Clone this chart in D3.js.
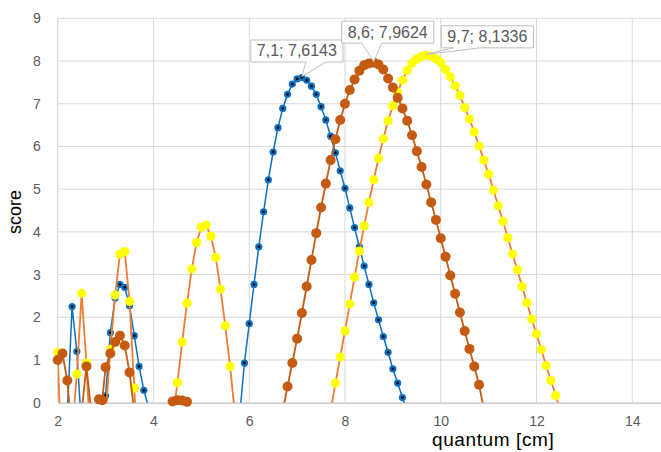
<!DOCTYPE html>
<html>
<head>
<meta charset="utf-8">
<script src="https://cdn.jsdelivr.net/npm/d3@7"></script>
<style>
  html, body { margin: 0; padding: 0; background: #ffffff; }
  svg { display: block; font-family: "Liberation Sans", Arial, sans-serif; }
</style>
</head>
<body>
<svg id="chart" width="661" height="452"></svg>
<script>
// Axis ticks
const xTicks = [2, 4, 6, 8, 10, 12, 14];
const yTicks = [0, 1, 2, 3, 4, 5, 6, 7, 8, 9];

// Series 1 (blue)
const blueX = [2.1, 2.2, 2.3, 2.4, 2.5, 2.9, 3.0, 3.1, 3.2, 3.3, 3.4, 3.5, 3.6, 3.7, 3.8, 3.9,
  5.8, 5.9, 6.0, 6.1, 6.2, 6.3, 6.4, 6.5, 6.6, 6.7, 6.8, 6.9, 7.0, 7.1, 7.2, 7.3, 7.4, 7.5,
  7.6, 7.7, 7.8, 7.9, 8.0, 8.1, 8.2, 8.3, 8.4, 8.5, 8.6, 8.7, 8.8, 8.9, 9.0, 9.1, 9.2, 9.3];
const blueY = [-1.0, -0.3, 2.25, 1.20, -0.6, -0.3, 0.16, 1.64, 2.45, 2.77, 2.70, 2.27, 1.57, 0.85, 0.29, -0.12,
  -0.3, 0.93, 1.85, 2.77, 3.65, 4.47, 5.22, 5.87, 6.44, 6.89, 7.22, 7.46, 7.58, 7.6143, 7.55, 7.41, 7.22, 6.93,
  6.62, 6.24, 5.85, 5.43, 5.02, 4.56, 4.10, 3.65, 3.20, 2.77, 2.34, 1.94, 1.55, 1.18, 0.79, 0.46, 0.12, -0.25];

// Series 2 (brown)
const brownX = [2.0, 2.1, 2.2, 2.3, 2.5, 2.6, 2.7, 2.8, 2.86, 2.93, 3.0, 3.1, 3.2, 3.3, 3.4, 3.5, 3.6,
  4.3, 4.4, 4.5, 4.6, 4.7, 4.8,
  6.7, 6.8, 6.9, 7.0, 7.1, 7.2, 7.3, 7.4, 7.5, 7.6, 7.7, 7.8, 7.9, 8.0, 8.1, 8.2, 8.3, 8.4, 8.5,
  8.6, 8.7, 8.8, 8.9, 9.0, 9.1, 9.2, 9.3, 9.4, 9.5, 9.6, 9.7, 9.8, 9.9, 10.0, 10.1, 10.2, 10.3,
  10.4, 10.5, 10.6, 10.7, 10.8, 10.9];
const brownY = [1.0, 1.15, 0.52, -0.8, -0.2, 0.85, -0.2, -0.5, 0.08, 0.06, 0.83, 1.15, 1.42, 1.57, 1.34, 0.71, -0.2,
  -0.5, 0.03, 0.06, 0.05, 0.02, -0.5,
  -0.2, 0.38, 0.93, 1.50, 2.10, 2.72, 3.34, 3.97, 4.57, 5.13, 5.68, 6.17, 6.62, 7.00, 7.32, 7.57, 7.77, 7.90, 7.94,
  7.9624, 7.92, 7.80, 7.59, 7.38, 7.14, 6.89, 6.60, 6.26, 5.89, 5.52, 5.11, 4.69, 4.28, 3.85, 3.42, 2.98, 2.55,
  2.11, 1.68, 1.26, 0.85, 0.42, -0.15];

// Series 3 (yellow)
const yellowX = [2.0, 2.1, 2.3, 2.4, 2.5, 2.6, 2.7, 3.0, 3.1, 3.2, 3.3, 3.4, 3.5, 3.6, 3.7,
  4.4, 4.5, 4.6, 4.7, 4.8, 4.9, 5.0, 5.1, 5.2, 5.3, 5.4, 5.5, 5.6, 5.7,
  7.7, 7.8, 7.9, 8.0, 8.1, 8.2, 8.3, 8.4, 8.5, 8.6, 8.7, 8.8, 8.9, 9.0, 9.1, 9.2, 9.3, 9.4, 9.5,
  9.6, 9.7, 9.8, 9.9, 10.0, 10.1, 10.2, 10.3, 10.4, 10.5, 10.6, 10.7, 10.8, 10.9, 11.0, 11.1, 11.2,
  11.3, 11.4, 11.5, 11.6, 11.7, 11.8, 11.9, 12.0, 12.1, 12.2, 12.3, 12.4, 12.5];
const yellowY = [1.18, -2.0, -0.7, 0.67, 2.56, 0.93, -1.4, -0.3, 1.25, 2.52, 3.48, 3.54, 2.37, 0.34, -2.0,
  -0.4, 0.47, 1.42, 2.33, 3.13, 3.75, 4.11, 4.16, 3.90, 3.40, 2.66, 1.80, 0.85, -0.25,
  -0.2, 0.46, 1.07, 1.68, 2.31, 2.94, 3.55, 4.14, 4.69, 5.22, 5.72, 6.18, 6.60, 6.95, 7.27, 7.55, 7.78, 7.95, 8.05,
  8.11, 8.1336, 8.11, 8.05, 7.96, 7.80, 7.63, 7.42, 7.20, 6.91, 6.64, 6.34, 6.01, 5.68, 5.35, 4.98, 4.61,
  4.25, 3.86, 3.48, 3.11, 2.72, 2.34, 1.96, 1.61, 1.24, 0.87, 0.52, 0.17, -0.2];

// Points carrying a value label
const labelled = [
  { series: "blue", x: 7.1, y: 7.6143 },
  { series: "brown", x: 8.6, y: 7.9624 },
  { series: "yellow", x: 9.7, y: 8.1336 }
];

const svg = d3.select("#chart");
const plot = { left: 57.7, right: 661, top: 18.3, bottom: 402.7 };

const x = d3.scaleLinear().domain([2, 14.6]).range([plot.left, plot.right]);
const y = d3.scaleLinear().domain([0, 9]).range([plot.bottom, plot.top]);

// grid
const grid = svg.append("g");
grid.selectAll("line.h").data(yTicks.filter(d => d > 0)).join("line")
  .attr("x1", plot.left).attr("x2", plot.right)
  .attr("y1", d => y(d)).attr("y2", d => y(d))
  .attr("stroke", "#d9d9d9").attr("stroke-width", 1);
grid.selectAll("line.v").data(xTicks).join("line")
  .attr("x1", d => x(d)).attr("x2", d => x(d))
  .attr("y1", plot.top).attr("y2", plot.bottom)
  .attr("stroke", "#d9d9d9").attr("stroke-width", d => d === 2 ? 1.3 : 1);

// axes
const yAxis = d3.axisLeft(y).tickValues(yTicks).tickSize(0).tickPadding(17).tickFormat(d3.format("d"));
const gy = svg.append("g").attr("transform", `translate(${plot.left},0)`).call(yAxis);
gy.select(".domain").remove();
gy.selectAll("text").attr("fill", "#595959").style("font-size", "14px");

const xAxis = d3.axisBottom(x).tickValues(xTicks).tickSize(0).tickPadding(13).tickFormat(d3.format("d"));
const gx = svg.append("g").attr("transform", `translate(0,${plot.bottom})`).call(xAxis);
gx.select(".domain").attr("stroke", "#bfbfbf").attr("stroke-width", 1.2);
gx.selectAll("text").attr("fill", "#595959").style("font-size", "14px");

// axis titles
svg.append("text").attr("x", 432).attr("y", 446)
  .attr("fill", "#000").style("font-size", "19px").style("letter-spacing", "0.6px").text("quantum [cm]");
svg.append("text").attr("transform", "translate(21,212) rotate(-90)")
  .attr("text-anchor", "middle").attr("fill", "#000").style("font-size", "18px").text("score");

// clip for lines
svg.append("clipPath").attr("id", "plotClip").append("rect")
  .attr("x", plot.left).attr("y", plot.top - 5)
  .attr("width", plot.right - plot.left).attr("height", plot.bottom - plot.top + 5);

const line = d3.line().x(d => x(d[0])).y(d => y(d[1]));
const zip = (xs, ys) => xs.map((v, i) => [v, ys[i]]);

const series = [
  { key: "blue", data: zip(blueX, blueY), line: "#0a70c2", lw: 1.5, fill: "#0a70c2", r: 3.6, dot: true },
  { key: "yellow", data: zip(yellowX, yellowY), line: "#ed7d31", lw: 1.8, fill: "#ffff00", r: 4.6, dot: false },
  { key: "brown", data: zip(brownX, brownY), line: "#c55a11", lw: 1.8, fill: "#c55a11", r: 5, dot: false }
];

series.forEach(s => {
  const g = svg.append("g");
  g.append("path").datum(s.data)
    .attr("clip-path", "url(#plotClip)")
    .attr("fill", "none").attr("stroke", s.line).attr("stroke-width", s.lw)
    .attr("stroke-linejoin", "round").attr("d", line);
  const pts = s.data.filter(d => d[1] >= 0 && d[1] <= 9);
  g.selectAll("circle.m").data(pts).join("circle")
    .attr("cx", d => x(d[0])).attr("cy", d => y(d[1]))
    .attr("r", s.r).attr("fill", s.fill);
  if (s.dot) {
    g.selectAll("circle.c").data(pts).join("circle")
      .attr("cx", d => x(d[0])).attr("cy", d => y(d[1]))
      .attr("r", 1.4).attr("fill", "#000");
  }
});

// value callouts
const fmt = v => String(v).replace(".", ",");
const callouts = [
  { dx: -5, dy: -21, baseL: 4, baseR: 24 },
  { dx: 14, dy: -25, baseL: -12, baseR: 8 },
  { dx: 61, dy: -13, baseL: 27, baseR: 54 }
];
labelled.forEach((p, i) => {
  const c = callouts[i];
  const px = x(p.x), py = y(p.y);
  const g = svg.append("g");
  const t = g.append("text")
    .attr("x", px + c.dx).attr("y", py + c.dy)
    .attr("text-anchor", "middle")
    .attr("fill", "#595959").style("font-size", "16px")
    .text(`${fmt(p.x)}; ${fmt(p.y)}`);
  const bb = t.node().getBBox();
  const left = px + c.dx - bb.width / 2 - 6, right = px + c.dx + bb.width / 2 + 6;
  const top = py + c.dy - 16.5, bottom = py + c.dy + 5.5;
  const path = `M${left},${top}H${right}V${bottom}H${px + c.baseR}L${px},${py - 1}L${px + c.baseL},${bottom}H${left}Z`;
  g.insert("path", "text").attr("d", path)
    .attr("fill", "#fff").attr("stroke", "#bfbfbf").attr("stroke-width", 1);
});
</script>
</body>
</html>
